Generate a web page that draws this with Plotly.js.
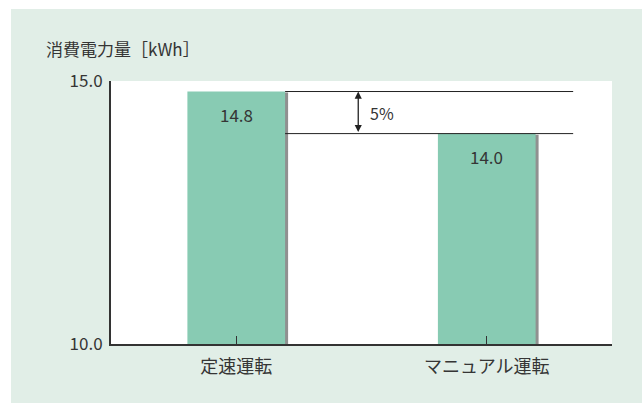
<!DOCTYPE html>
<html>
<head>
<meta charset="utf-8">
<script src="https://cdn.plot.ly/plotly-3.0.1.min.js"></script>
<style>
  html, body { margin: 0; padding: 0; background: #e1eee7; overflow: hidden; }
  .edge { position: fixed; background: #ffffff; z-index: 2; }
  #edge-top { left: 0; top: 0; width: 100vw; height: 9px; }
  #edge-left { left: 0; top: 0; width: 11px; height: 100vh; }
  #chart { position: absolute; left: 11px; top: 9px; width: 631px; height: 394px; }
</style>
</head>
<body>
<div class="edge" id="edge-top"></div>
<div class="edge" id="edge-left"></div>
<div id="chart"></div>
<script>
// Energy use per operating mode
const categories = ['定速運転', 'マニュアル運転'];
const consumption = [14.8, 14.0];
const yTicks = [10, 15];
const yTickLabels = ['10.0', '15.0'];
const axisTitle = '消費電力量［kWh］';
const savingLabel = '5%';

(function () {
  const FONT = '"Noto Sans CJK JP", "Noto Sans", sans-serif';
  const TEXT = '#353535';
  const BAR = '#88cbb3';
  const BAR_W = 0.39;

  const xs = categories.map((_, i) => i);

  // soft drop shadow behind each bar
  const shadow = {
    type: 'bar', x: xs, y: consumption.map(v => v - 10.02), base: 10,
    width: BAR_W, offset: -BAR_W / 2 + 0.012,
    marker: { color: 'rgba(70,70,70,0.6)', line: { width: 0 } },
    hoverinfo: 'skip', showlegend: false
  };
  const bars = {
    type: 'bar', x: xs, y: consumption.map(v => v - 10), base: 10,
    width: BAR_W, offset: -BAR_W / 2,
    marker: { color: BAR, line: { width: 0 } },
    hoverinfo: 'skip', showlegend: false
  };

  const high = consumption[0], low = consumption[1];
  const lineX0 = BAR_W / 2, lineX1 = 1.345, arrowX = 0.487;

  const annotations = [
    { xref: 'paper', yref: 'paper', x: -0.134, y: 1.124, xanchor: 'left', yanchor: 'middle',
      text: axisTitle, showarrow: false, font: { family: FONT, size: 17, color: TEXT } },
    { xref: 'x', yref: 'y', x: arrowX, y: high, ax: arrowX, ay: low, axref: 'x', ayref: 'y',
      text: '', showarrow: true, arrowside: 'end+start', arrowhead: 2, arrowsize: 1.1,
      arrowwidth: 1.3, arrowcolor: '#222222', standoff: 0, startstandoff: 0 },
    { xref: 'x', yref: 'y', x: arrowX + 0.04, y: (high + low) / 2, xanchor: 'left', yanchor: 'middle',
      text: savingLabel, showarrow: false, font: { family: FONT, size: 16, color: TEXT } }
  ];
  consumption.forEach((v, i) => annotations.push({
    xref: 'x', yref: 'y', x: i, y: v, yanchor: 'top', yshift: -8,
    text: v.toFixed(1), showarrow: false, font: { family: FONT, size: 17, color: TEXT }
  }));

  const shapes = [high, low].map(v => ({
    type: 'line', xref: 'x', yref: 'y', x0: lineX0, x1: lineX1, y0: v, y1: v,
    line: { color: '#222222', width: 1 }
  }));

  const layout = {
    width: 631, height: 394,
    margin: { l: 100, r: 30, t: 72, b: 59 },
    paper_bgcolor: '#e1eee7', plot_bgcolor: '#ffffff',
    barmode: 'overlay',
    font: { family: FONT, color: TEXT },
    xaxis: {
      range: [-0.5, 1.5], tickvals: xs, ticktext: categories, tickson: 'boundaries',
      ticks: 'inside', ticklen: 8, tickcolor: '#333333', tickwidth: 1,
      showline: true, linecolor: '#333333', linewidth: 2, showgrid: false, zeroline: false,
      tickfont: { family: FONT, size: 18, color: TEXT }, ticklabelstandoff: 5, fixedrange: true
    },
    yaxis: {
      range: [10, 15], tickvals: yTicks, ticktext: yTickLabels,
      ticks: 'inside', ticklen: 7, tickcolor: '#333333', tickwidth: 2,
      showline: true, linecolor: '#333333', linewidth: 2, showgrid: false, zeroline: false,
      tickfont: { family: FONT, size: 17, color: TEXT }, ticklabelstandoff: 3, fixedrange: true
    },
    annotations: annotations,
    shapes: shapes
  };

  Plotly.newPlot('chart', [shadow, bars], layout, { displayModeBar: false, staticPlot: true });
})();
</script>
</body>
</html>
